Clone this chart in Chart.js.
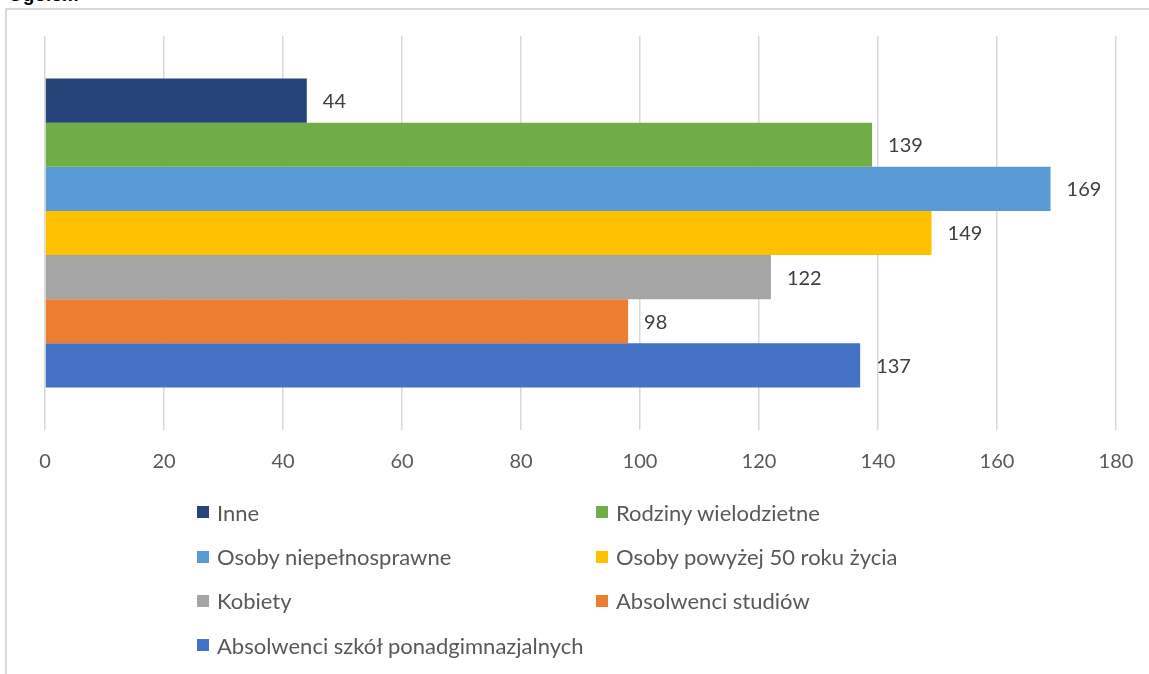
<!DOCTYPE html>
<html>
<head>
<meta charset="utf-8">
<script src="https://cdn.jsdelivr.net/npm/chart.js@4"></script>
<style>
  html, body { margin:0; padding:0; background:#fff; }
  body { width:1149px; height:674px; position:relative; overflow:hidden; font-family: Lato, "Open Sans", sans-serif; }
  #frame { position:absolute; left:5px; top:8px; width:1200px; height:700px; border-left:2px solid #d9d9d9; border-top:2px solid #d9d9d9; }
  #title { position:absolute; left:8px; top:-16px; font:bold 19px "Liberation Sans", Arial, sans-serif; color:#000; }
  #wrap { position:absolute; left:0; top:0; width:1149px; height:674px; }
  #legend { position:absolute; left:197px; top:490px; display:grid; grid-template-columns:399px 400px; grid-auto-rows:44.4px; }
  .item { display:flex; align-items:center; font-size:22px; color:#595959; white-space:nowrap; }
  .sw { width:12px; height:12px; margin-right:8px; flex:none; }
</style>
</head>
<body>
<div id="frame"></div>
<div id="title">Ogółem</div>
<div id="wrap"><canvas id="c" width="1149" height="674"></canvas></div>
<div id="legend"></div>
<script>
const categories = ["Ogółem"];
const seriesNames = ["Inne", "Rodziny wielodzietne", "Osoby niepełnosprawne", "Osoby powyżej 50 roku życia", "Kobiety", "Absolwenci studiów", "Absolwenci szkół ponadgimnazjalnych"];
const seriesValues = [44, 139, 169, 149, 122, 98, 137];
const seriesColors = ["#264478", "#70AD47", "#5B9BD5", "#FFC000", "#A5A5A5", "#ED7D31", "#4472C4"];
const xTicks = [0, 20, 40, 60, 80, 100, 120, 140, 160, 180];

const FONT = "Lato, 'Open Sans', sans-serif";

const valueLabels = {
  id: 'valueLabels',
  afterDatasetsDraw(chart) {
    const ctx = chart.ctx;
    ctx.save();
    ctx.font = "20px " + FONT;
    ctx.fillStyle = "#404040";
    ctx.textBaseline = "middle";
    ctx.textAlign = "left";
    chart.data.datasets.forEach((ds, i) => {
      const meta = chart.getDatasetMeta(i);
      meta.data.forEach((bar, j) => {
        ctx.fillText(String(ds.data[j]), bar.x + 16, bar.y + 1);
      });
    });
    ctx.restore();
  }
};

new Chart(document.getElementById('c'), {
  type: 'bar',
  data: {
    labels: categories,
    datasets: seriesNames.map((n, i) => ({
      label: n,
      data: [seriesValues[i]],
      backgroundColor: seriesColors[i],
      borderWidth: 0,
      categoryPercentage: 0.784,
      barPercentage: 1
    }))
  },
  options: {
    indexAxis: 'y',
    responsive: false,
    animation: false,
    devicePixelRatio: 1,
    layout: { padding: { left: 45, right: 33, top: 36, bottom: 204 } },
    plugins: { legend: { display: false }, tooltip: { enabled: false }, title: { display: false } },
    scales: {
      y: { display: false },
      x: {
        min: 0, max: 180,
        afterBuildTicks(scale) { scale.ticks = xTicks.map(v => ({ value: v })); },
        afterFit(scale) { scale.height = 40; scale.paddingLeft = 0; scale.paddingRight = 0; },
        grid: { color: "#d9d9d9", lineWidth: 1.5, drawTicks: false },
        border: { display: false },
        ticks: { padding: 20, color: "#595959", font: { family: FONT, size: 20 }, maxRotation: 0, autoSkip: false }
      }
    }
  },
  plugins: [valueLabels]
});

const lg = document.getElementById('legend');
seriesNames.forEach((n, i) => {
  const d = document.createElement('div');
  d.className = 'item';
  const s = document.createElement('span');
  s.className = 'sw';
  s.style.background = seriesColors[i];
  const t = document.createElement('span');
  t.textContent = n;
  d.appendChild(s); d.appendChild(t);
  lg.appendChild(d);
});
</script>
</body>
</html>
